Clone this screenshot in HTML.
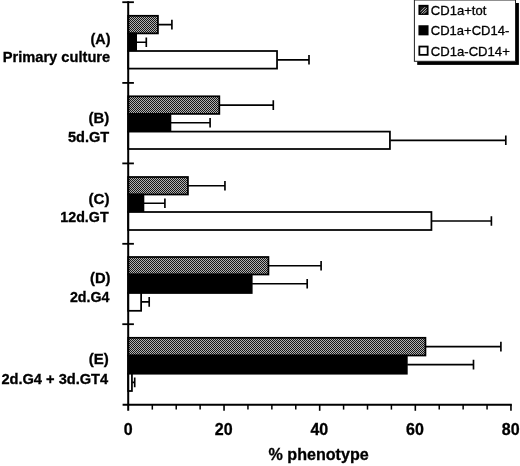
<!DOCTYPE html>
<html lang="en"><head><meta charset="utf-8"><title>% phenotype</title>
<style>html,body{margin:0;padding:0;background:#fff}body{width:520px;height:466px;overflow:hidden}</style></head>
<body>
<svg width="520" height="466" viewBox="0 0 520 466" style="display:block">
<defs><clipPath id="hc"><rect x="128.2" y="15.80" width="29.80" height="17.60"/><rect x="128.2" y="96.30" width="91.20" height="17.60"/><rect x="128.2" y="177.00" width="59.80" height="17.50"/><rect x="128.2" y="257.00" width="140.30" height="17.50"/><rect x="128.2" y="337.80" width="297.30" height="17.70"/><rect x="419.3" y="5.45" width="8.6" height="8.6"/></clipPath><pattern id="h" width="2" height="2" patternUnits="userSpaceOnUse"><rect width="2" height="2" fill="#161616"/><rect x="1" y="0" width="1" height="1" fill="#b2b2b2"/><rect x="0" y="1" width="1" height="1" fill="#b2b2b2"/></pattern></defs>
<rect width="520" height="466" fill="#fff"/>
<g clip-path="url(#hc)"><rect x="128" y="0" width="392" height="410" fill="url(#h)"/></g>
<rect x="128.2" y="15.80" width="29.73" height="17.60" fill="none" stroke="#000" stroke-width="1.75"/>
<rect x="128.2" y="33.40" width="7.93" height="17.60" fill="#000" stroke="#000" stroke-width="1.75"/>
<rect x="128.2" y="51.00" width="148.83" height="17.60" fill="#fff" stroke="#000" stroke-width="1.75"/>
<path d="M158.30,24.60H172.50M171.90,19.80V29.40" stroke="#000" stroke-width="1.65" fill="none"/>
<path d="M136.50,42.20H146.90M146.30,37.40V47.00" stroke="#000" stroke-width="1.65" fill="none"/>
<path d="M277.40,59.80H309.60M309.00,55.00V64.60" stroke="#000" stroke-width="1.65" fill="none"/>
<rect x="128.2" y="96.30" width="91.13" height="17.60" fill="none" stroke="#000" stroke-width="1.75"/>
<rect x="128.2" y="113.90" width="42.23" height="17.70" fill="#000" stroke="#000" stroke-width="1.75"/>
<rect x="128.2" y="131.60" width="261.73" height="17.40" fill="#fff" stroke="#000" stroke-width="1.75"/>
<path d="M219.70,105.10H273.90M273.30,100.30V109.90" stroke="#000" stroke-width="1.65" fill="none"/>
<path d="M170.80,122.75H210.70M210.10,117.95V127.55" stroke="#000" stroke-width="1.65" fill="none"/>
<path d="M390.30,140.30H506.40M505.80,135.50V145.10" stroke="#000" stroke-width="1.65" fill="none"/>
<rect x="128.2" y="177.00" width="59.73" height="17.50" fill="none" stroke="#000" stroke-width="1.75"/>
<rect x="128.2" y="194.50" width="15.23" height="17.50" fill="#000" stroke="#000" stroke-width="1.75"/>
<rect x="128.2" y="212.00" width="303.23" height="18.00" fill="#fff" stroke="#000" stroke-width="1.75"/>
<path d="M188.30,185.75H225.55M224.95,180.95V190.55" stroke="#000" stroke-width="1.65" fill="none"/>
<path d="M143.80,203.25H165.50M164.90,198.45V208.05" stroke="#000" stroke-width="1.65" fill="none"/>
<path d="M431.80,221.00H492.00M491.40,216.20V225.80" stroke="#000" stroke-width="1.65" fill="none"/>
<rect x="128.2" y="257.00" width="140.23" height="17.50" fill="none" stroke="#000" stroke-width="1.75"/>
<rect x="128.2" y="274.50" width="123.53" height="18.50" fill="#000" stroke="#000" stroke-width="1.75"/>
<rect x="128.2" y="293.00" width="12.93" height="17.80" fill="#fff" stroke="#000" stroke-width="1.75"/>
<path d="M268.80,265.75H321.70M321.10,260.95V270.55" stroke="#000" stroke-width="1.65" fill="none"/>
<path d="M252.10,283.75H307.80M307.20,278.95V288.55" stroke="#000" stroke-width="1.65" fill="none"/>
<path d="M141.50,301.90H149.80M149.20,297.10V306.70" stroke="#000" stroke-width="1.65" fill="none"/>
<rect x="128.2" y="337.80" width="297.23" height="17.70" fill="none" stroke="#000" stroke-width="1.75"/>
<rect x="128.2" y="355.50" width="278.62" height="18.20" fill="#000" stroke="#000" stroke-width="1.75"/>
<rect x="128.2" y="373.70" width="3.73" height="17.30" fill="#fff" stroke="#000" stroke-width="1.75"/>
<path d="M425.80,346.65H501.50M500.90,341.85V351.45" stroke="#000" stroke-width="1.65" fill="none"/>
<path d="M407.20,364.60H474.10M473.50,359.80V369.40" stroke="#000" stroke-width="1.65" fill="none"/>
<path d="M132.30,382.35H135.30M134.70,377.55V387.15" stroke="#000" stroke-width="1.65" fill="none"/>
<path d="M128.2,1.3V410.8" stroke="#000" stroke-width="2" fill="none"/>
<path d="M122.6,404.8H511.8" stroke="#000" stroke-width="2" fill="none"/>
<path d="M122.3,2.2H133.9" stroke="#000" stroke-width="1.8"/>
<path d="M122.3,82.9H133.9" stroke="#000" stroke-width="1.8"/>
<path d="M122.3,163.4H133.9" stroke="#000" stroke-width="1.8"/>
<path d="M122.3,243.8H133.9" stroke="#000" stroke-width="1.8"/>
<path d="M122.3,324.2H133.9" stroke="#000" stroke-width="1.8"/>
<path d="M152.31,404.4V409.6" stroke="#000" stroke-width="1.5"/>
<path d="M176.22,404.4V409.6" stroke="#000" stroke-width="1.5"/>
<path d="M200.13,404.4V409.6" stroke="#000" stroke-width="1.5"/>
<path d="M224.04,404.4V410.8" stroke="#000" stroke-width="1.6"/>
<path d="M247.95,404.4V409.6" stroke="#000" stroke-width="1.5"/>
<path d="M271.86,404.4V409.6" stroke="#000" stroke-width="1.5"/>
<path d="M295.77,404.4V409.6" stroke="#000" stroke-width="1.5"/>
<path d="M319.68,404.4V410.8" stroke="#000" stroke-width="1.6"/>
<path d="M343.59,404.4V409.6" stroke="#000" stroke-width="1.5"/>
<path d="M367.50,404.4V409.6" stroke="#000" stroke-width="1.5"/>
<path d="M391.41,404.4V409.6" stroke="#000" stroke-width="1.5"/>
<path d="M415.32,404.4V410.8" stroke="#000" stroke-width="1.6"/>
<path d="M439.23,404.4V409.6" stroke="#000" stroke-width="1.5"/>
<path d="M463.14,404.4V409.6" stroke="#000" stroke-width="1.5"/>
<path d="M487.05,404.4V409.6" stroke="#000" stroke-width="1.5"/>
<path d="M510.96,404.4V410.8" stroke="#000" stroke-width="1.6"/>
<text x="128.10" y="434.8" font-family="Liberation Sans, Arial, sans-serif" font-size="16" font-weight="bold" text-anchor="middle" textLength="8.9" lengthAdjust="spacingAndGlyphs" stroke="#000" stroke-width="0.3">0</text>
<text x="223.74" y="434.8" font-family="Liberation Sans, Arial, sans-serif" font-size="16" font-weight="bold" text-anchor="middle" textLength="17.8" lengthAdjust="spacingAndGlyphs" stroke="#000" stroke-width="0.3">20</text>
<text x="319.38" y="434.8" font-family="Liberation Sans, Arial, sans-serif" font-size="16" font-weight="bold" text-anchor="middle" textLength="17.8" lengthAdjust="spacingAndGlyphs" stroke="#000" stroke-width="0.3">40</text>
<text x="415.02" y="434.8" font-family="Liberation Sans, Arial, sans-serif" font-size="16" font-weight="bold" text-anchor="middle" textLength="17.8" lengthAdjust="spacingAndGlyphs" stroke="#000" stroke-width="0.3">60</text>
<text x="510.66" y="434.8" font-family="Liberation Sans, Arial, sans-serif" font-size="16" font-weight="bold" text-anchor="middle" textLength="17.8" lengthAdjust="spacingAndGlyphs" stroke="#000" stroke-width="0.3">80</text>
<text x="318.6" y="459.7" font-family="Liberation Sans, Arial, sans-serif" font-size="16" font-weight="bold" text-anchor="middle" textLength="100.2" lengthAdjust="spacingAndGlyphs" stroke="#000" stroke-width="0.3">% phenotype</text>
<text x="110.5" y="43.60" font-family="Liberation Sans, Arial, sans-serif" font-size="14" font-weight="bold" text-anchor="end" textLength="20" lengthAdjust="spacingAndGlyphs" stroke="#000" stroke-width="0.3">(A)</text>
<text x="110.2" y="61.90" font-family="Liberation Sans, Arial, sans-serif" font-size="14" font-weight="bold" text-anchor="end" textLength="107.5" lengthAdjust="spacingAndGlyphs" stroke="#000" stroke-width="0.3">Primary culture</text>
<text x="109.2" y="123.00" font-family="Liberation Sans, Arial, sans-serif" font-size="14" font-weight="bold" text-anchor="end" textLength="20.7" lengthAdjust="spacingAndGlyphs" stroke="#000" stroke-width="0.3">(B)</text>
<text x="109.2" y="141.70" font-family="Liberation Sans, Arial, sans-serif" font-size="14" font-weight="bold" text-anchor="end" textLength="41.3" lengthAdjust="spacingAndGlyphs" stroke="#000" stroke-width="0.3">5d.GT</text>
<text x="109.5" y="203.90" font-family="Liberation Sans, Arial, sans-serif" font-size="14" font-weight="bold" text-anchor="end" textLength="21" lengthAdjust="spacingAndGlyphs" stroke="#000" stroke-width="0.3">(C)</text>
<text x="108.6" y="222.10" font-family="Liberation Sans, Arial, sans-serif" font-size="14" font-weight="bold" text-anchor="end" textLength="48.3" lengthAdjust="spacingAndGlyphs" stroke="#000" stroke-width="0.3">12d.GT</text>
<text x="110.5" y="283.10" font-family="Liberation Sans, Arial, sans-serif" font-size="14" font-weight="bold" text-anchor="end" textLength="20.5" lengthAdjust="spacingAndGlyphs" stroke="#000" stroke-width="0.3">(D)</text>
<text x="109.4" y="301.60" font-family="Liberation Sans, Arial, sans-serif" font-size="14" font-weight="bold" text-anchor="end" textLength="39.5" lengthAdjust="spacingAndGlyphs" stroke="#000" stroke-width="0.3">2d.G4</text>
<text x="108.85" y="364.00" font-family="Liberation Sans, Arial, sans-serif" font-size="14" font-weight="bold" text-anchor="end" textLength="20" lengthAdjust="spacingAndGlyphs" stroke="#000" stroke-width="0.3">(E)</text>
<text x="108.2" y="383.50" font-family="Liberation Sans, Arial, sans-serif" font-size="14" font-weight="bold" text-anchor="end" textLength="106.8" lengthAdjust="spacingAndGlyphs" stroke="#000" stroke-width="0.3">2d.G4 + 3d.GT4</text>
<rect x="417.2" y="3" width="101.7" height="61.9" fill="#000"/>
<rect x="414.4" y="0" width="101.1" height="61.3" fill="#fff" stroke="#222" stroke-width="1"/>
<rect x="419.35" y="5.75" width="8.3" height="8.3" fill="#1c1c1c" stroke="#000" stroke-width="1.8"/>
<text x="430.8" y="14.60" font-family="Liberation Sans, Arial, sans-serif" font-size="12.8" textLength="55.5" lengthAdjust="spacingAndGlyphs" stroke="#000" stroke-width="0.3">CD1a+tot</text>
<rect x="419.35" y="26.15" width="8.3" height="8.3" fill="#000" stroke="#000" stroke-width="1.8"/>
<text x="430.8" y="35.10" font-family="Liberation Sans, Arial, sans-serif" font-size="12.8" textLength="78.5" lengthAdjust="spacingAndGlyphs" stroke="#000" stroke-width="0.3">CD1a+CD14-</text>
<rect x="419.35" y="46.55" width="8.3" height="8.3" fill="#fff" stroke="#000" stroke-width="1.8"/>
<text x="430.8" y="55.60" font-family="Liberation Sans, Arial, sans-serif" font-size="12.8" textLength="79" lengthAdjust="spacingAndGlyphs" stroke="#000" stroke-width="0.3">CD1a-CD14+</text>
<path d="M420.6,11.6l4.4,-4.4M421.4,13.6l5.4,-5.4M423.6,13.8l3.2,-3.2" stroke="#c8c8c8" stroke-width="0.9" fill="none"/>
</svg>
</body></html>
